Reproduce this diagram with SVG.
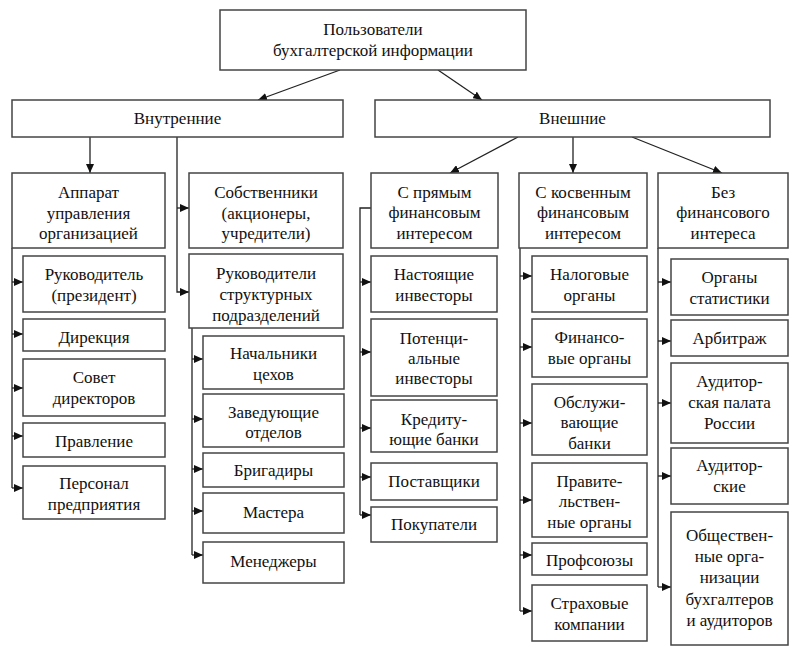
<svg xmlns="http://www.w3.org/2000/svg" width="798" height="654" viewBox="0 0 798 654">
<defs>
<marker id="ah" markerUnits="userSpaceOnUse" markerWidth="9" markerHeight="8" refX="9" refY="4" orient="auto">
<path d="M0,0 L9,4 L0,8 z" fill="#111"/>
</marker>
<style>
rect{fill:#fff;stroke:#444;stroke-width:1.5}
.c path,.c line{fill:none;stroke:#222;stroke-width:1.3}
.a{marker-end:url(#ah)}
</style>
</defs>
<rect width="798" height="654" style="fill:#fff;stroke:none"/>

<g class="c" id="connectors">
<line class="a" x1="340" y1="70" x2="258" y2="100"/>
<line class="a" x1="438" y1="70" x2="482" y2="100"/>
<line class="a" x1="90" y1="137" x2="90" y2="173"/>
<path class="a" d="M177,137 V292 H189"/>
<line class="a" x1="177" y1="208" x2="189" y2="208"/>
<line class="a" x1="518" y1="137" x2="450" y2="173"/>
<line class="a" x1="573" y1="137" x2="573" y2="173"/>
<line class="a" x1="632" y1="137" x2="722" y2="173"/>
<path d="M12,248 V488"/>
<line class="a" x1="12" y1="282" x2="23" y2="282"/>
<line class="a" x1="12" y1="334" x2="23" y2="334"/>
<line class="a" x1="12" y1="388" x2="23" y2="388"/>
<line class="a" x1="12" y1="436" x2="23" y2="436"/>
<line class="a" x1="12" y1="488" x2="23" y2="488"/>
<path d="M192,328 V555"/>
<line class="a" x1="192" y1="359" x2="203" y2="359"/>
<line class="a" x1="192" y1="419" x2="203" y2="419"/>
<line class="a" x1="192" y1="469" x2="203" y2="469"/>
<line class="a" x1="192" y1="511" x2="203" y2="511"/>
<line class="a" x1="192" y1="555" x2="203" y2="555"/>
<path d="M371,208 H360 V515"/>
<line class="a" x1="360" y1="282" x2="371" y2="282"/>
<line class="a" x1="360" y1="352" x2="371" y2="352"/>
<line class="a" x1="360" y1="428" x2="371" y2="428"/>
<line class="a" x1="360" y1="477" x2="371" y2="477"/>
<line class="a" x1="360" y1="515" x2="371" y2="515"/>
<path d="M520,248 V611"/>
<line class="a" x1="520" y1="276" x2="532" y2="276"/>
<line class="a" x1="520" y1="347" x2="532" y2="347"/>
<line class="a" x1="520" y1="423" x2="532" y2="423"/>
<line class="a" x1="520" y1="500" x2="532" y2="500"/>
<line class="a" x1="520" y1="555" x2="532" y2="555"/>
<line class="a" x1="520" y1="611" x2="532" y2="611"/>
<path d="M658,248 V587"/>
<line class="a" x1="658" y1="282" x2="671" y2="282"/>
<line class="a" x1="658" y1="341" x2="671" y2="341"/>
<line class="a" x1="658" y1="403" x2="671" y2="403"/>
<line class="a" x1="658" y1="476" x2="671" y2="476"/>
<line class="a" x1="658" y1="587" x2="671" y2="587"/>
</g>

<g id="nodes" font-family="Liberation Serif, Times New Roman, serif" font-size="17" fill="#111" text-anchor="middle">
<g id="root"><rect x="220" y="10" width="306" height="60"/><text x="373" y="35">Пользователи</text><text x="373" y="56">бухгалтерской информации</text></g>
<g id="internal"><rect x="12" y="100" width="331" height="37"/><text x="177.5" y="124">Внутренние</text></g>
<g id="external"><rect x="375" y="100" width="395" height="37"/><text x="572.5" y="124">Внешние</text></g>

<g id="apparat"><rect x="12" y="173" width="153" height="75"/><text x="88.5" y="198">Аппарат</text><text x="88.5" y="219">управления</text><text x="88.5" y="239">организацией</text></g>
<g id="rukovoditel"><rect x="23" y="256" width="142" height="56"/><text x="94" y="280">Руководитель</text><text x="94" y="301">(президент)</text></g>
<g id="direkciya"><rect x="23" y="319" width="142" height="32"/><text x="94" y="343">Дирекция</text></g>
<g id="sovet"><rect x="23" y="359" width="142" height="57"/><text x="94" y="383">Совет</text><text x="94" y="404">директоров</text></g>
<g id="pravlenie"><rect x="23" y="423" width="142" height="34"/><text x="94" y="447">Правление</text></g>
<g id="personal"><rect x="23" y="466" width="142" height="53"/><text x="94" y="489">Персонал</text><text x="94" y="510">предприятия</text></g>

<g id="sobstvenniki"><rect x="189" y="173" width="154" height="75"/><text x="266" y="198">Собственники</text><text x="266" y="219">(акционеры,</text><text x="266" y="239">учредители)</text></g>
<g id="rukpodr"><rect x="189" y="254" width="154" height="74"/><text x="266" y="279">Руководители</text><text x="266" y="300">структурных</text><text x="266" y="321">подразделений</text></g>
<g id="nachalniki"><rect x="203" y="336" width="141" height="53"/><text x="273.5" y="359">Начальники</text><text x="273.5" y="380">цехов</text></g>
<g id="zaveduyushchie"><rect x="203" y="394" width="141" height="53"/><text x="273.5" y="418">Заведующие</text><text x="273.5" y="438">отделов</text></g>
<g id="brigadiry"><rect x="203" y="453" width="141" height="34"/><text x="273.5" y="476">Бригадиры</text></g>
<g id="mastera"><rect x="203" y="493" width="141" height="40"/><text x="273.5" y="518">Мастера</text></g>
<g id="menedzhery"><rect x="203" y="542" width="141" height="41"/><text x="273.5" y="567">Менеджеры</text></g>

<g id="pryamoy"><rect x="371" y="173" width="127" height="75"/><text x="434.5" y="198">С прямым</text><text x="434.5" y="218">финансовым</text><text x="434.5" y="239">интересом</text></g>
<g id="nastoyashchie"><rect x="371" y="256" width="126" height="56"/><text x="434" y="280">Настоящие</text><text x="434" y="301">инвесторы</text></g>
<g id="potencialnye"><rect x="371" y="319" width="126" height="77"/><text x="434" y="344">Потенци-</text><text x="434" y="364">альные</text><text x="434" y="384">инвесторы</text></g>
<g id="kredituyushchie"><rect x="371" y="400" width="126" height="52"/><text x="434" y="425">Кредиту-</text><text x="434" y="445">ющие банки</text></g>
<g id="postavshchiki"><rect x="371" y="463" width="126" height="37"/><text x="434" y="487">Поставщики</text></g>
<g id="pokupateli"><rect x="371" y="507" width="126" height="35"/><text x="434" y="530">Покупатели</text></g>

<g id="kosvennyy"><rect x="519" y="173" width="128" height="75"/><text x="583" y="198">С косвенным</text><text x="583" y="218">финансовым</text><text x="583" y="239">интересом</text></g>
<g id="nalogovye"><rect x="532" y="256" width="115" height="56"/><text x="589.5" y="280">Налоговые</text><text x="589.5" y="301">органы</text></g>
<g id="finansovye"><rect x="532" y="319" width="115" height="58"/><text x="589.5" y="343">Финансо-</text><text x="589.5" y="364">вые органы</text></g>
<g id="obsluzhivayushchie"><rect x="532" y="384" width="115" height="71"/><text x="589.5" y="408">Обслужи-</text><text x="589.5" y="428">вающие</text><text x="589.5" y="449">банки</text></g>
<g id="pravitelstvennye"><rect x="532" y="463" width="115" height="74"/><text x="589.5" y="487">Правите-</text><text x="589.5" y="507">льствен-</text><text x="589.5" y="528">ные органы</text></g>
<g id="profsoyuzy"><rect x="532" y="543" width="115" height="32"/><text x="589.5" y="566">Профсоюзы</text></g>
<g id="strahovye"><rect x="532" y="585" width="115" height="56"/><text x="589.5" y="609">Страховые</text><text x="589.5" y="630">компании</text></g>

<g id="bez"><rect x="658" y="173" width="130" height="75"/><text x="723" y="198">Без</text><text x="723" y="218">финансового</text><text x="723" y="239">интереса</text></g>
<g id="statistika"><rect x="671" y="259" width="117" height="56"/><text x="729.5" y="283">Органы</text><text x="729.5" y="304">статистики</text></g>
<g id="arbitrazh"><rect x="671" y="320" width="117" height="36"/><text x="729.5" y="344">Арбитраж</text></g>
<g id="palata"><rect x="671" y="363" width="117" height="80"/><text x="729.5" y="387">Аудитор-</text><text x="729.5" y="408">ская палата</text><text x="729.5" y="429">России</text></g>
<g id="auditorskie"><rect x="671" y="448" width="117" height="56"/><text x="729.5" y="471">Аудитор-</text><text x="729.5" y="492">ские</text></g>
<g id="obshchestvennye"><rect x="671" y="512" width="117" height="133"/><text x="729.5" y="541">Обществен-</text><text x="729.5" y="562">ные орга-</text><text x="729.5" y="583">низации</text><text x="729.5" y="605">бухгалтеров</text><text x="729.5" y="626">и аудиторов</text></g>
</g>
</svg>
